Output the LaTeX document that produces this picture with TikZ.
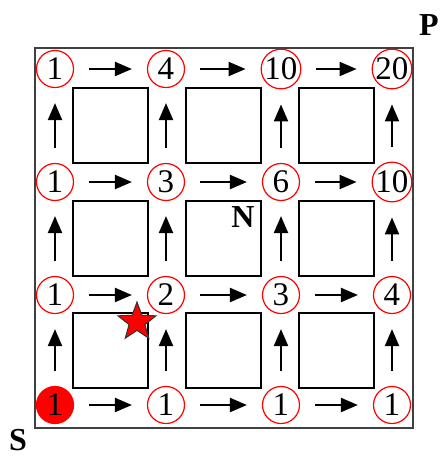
\documentclass[tikz,border=0pt]{standalone}
\usepackage{fontspec}
\setmainfont{Liberation Serif}
\usetikzlibrary{arrows.meta, calc, positioning, shapes.geometric}

\begin{document}
\begin{tikzpicture}[x=0.5pt, y=-0.5pt,
  cnt/.style={circle, draw=red, line width=0.6pt, minimum size=18.5pt, inner sep=0pt, font=\fontsize{16.5}{16.5}\selectfont},
  blk/.style={draw, line width=1pt, minimum size=37.5pt, inner sep=0pt},
  go/.style={-{Triangle[length=8.5pt,width=7pt]}, line width=1.1pt, shorten >=7.5pt, shorten <=7.5pt},
  lbl/.style={font=\fontsize{16}{16}\selectfont\bfseries}]
\useasboundingbox (0,0) rectangle (440,457);
\draw[line width=1pt, black!75] (35,48) rectangle (413,428);
% crossings, counted from S
\def\colx{{55,166,281,392}}
\def\rowy{{405,295,182,69}}
\foreach \row/\vals in {0/{1,1,1,1},1/{1,2,3,4},2/{1,3,6,10},3/{1,4,10,20}}{
  \foreach \v [count=\c from 0] in \vals{
    \pgfmathsetmacro\px{\colx[\c]}
    \pgfmathsetmacro\py{\rowy[\row]}
    \edef\bg{\ifnum\c\row=0 red\else white\fi}
    \node[cnt, fill=\bg] (n-\c-\row) at (\px,\py) {\v};
  }
}
% blocks
\foreach \c [evaluate=\c as \cc using int(\c+1)] in {0,1,2}{
  \foreach \r [evaluate=\r as \rr using int(\r+1)] in {0,1,2}{
    \node[blk] (b-\c-\r) at ($(n-\c-\r)!0.5!(n-\cc-\rr)$) {};
  }
}
% streets
\foreach \c [evaluate=\c as \cc using int(\c+1)] in {0,1,2}{
  \foreach \r in {0,1,2,3}{
    \draw[go] (n-\c-\r) -- (n-\cc-\r);
  }
}
\foreach \c in {0,1,2,3}{
  \foreach \r [evaluate=\r as \rr using int(\r+1)] in {0,1,2}{
    \draw[go] (n-\c-\r) -- (n-\c-\rr);
  }
}
\node[star, star points=5, star point ratio=2.4, minimum size=20pt, inner sep=0pt,
  fill=red, draw=black!80, line width=0.5pt] (star) at (137,322) {};
\node[lbl] (P) at (429,25) {P};
\node[lbl] (S) at (18,440) {S};
\node[lbl] (N) at (243,217) {N};
\end{tikzpicture}
\end{document}
